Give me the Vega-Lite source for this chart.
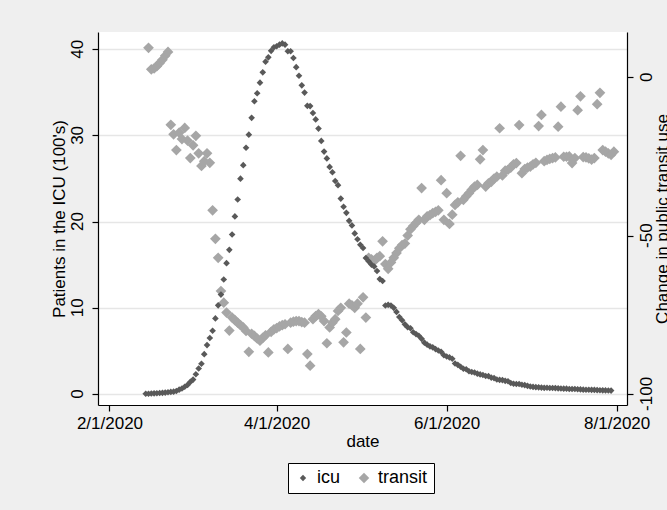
{
  "$schema": "https://vega.github.io/schema/vega-lite/v6.json",
  "width": 529,
  "height": 373,
  "autosize": {"type": "none"},
  "padding": {"left": 98, "top": 32, "right": 40, "bottom": 105},
  "background": "#efefef",
  "config": {
    "font": "Liberation Sans",
    "view": {"fill": "white", "stroke": null},
    "axis": {
      "domainColor": "black", "domainWidth": 1.2, "tickColor": "black", "tickWidth": 1.2, "tickSize": 6,
      "labelColor": "black", "titleColor": "black", "labelFont": "Liberation Sans", "titleFont": "Liberation Sans",
      "labelFontSize": 17, "titleFontSize": 17, "titleFontWeight": "normal"
    }
  },
  "datasets": {
    "series": [
    {"date":"2020-02-14","icu":0.02,"transit":null},
    {"date":"2020-02-15","icu":0.03,"transit":9.3},
    {"date":"2020-02-16","icu":0.05,"transit":2.5},
    {"date":"2020-02-17","icu":0.07,"transit":2.8},
    {"date":"2020-02-18","icu":0.09,"transit":3.5},
    {"date":"2020-02-19","icu":0.11,"transit":4.5},
    {"date":"2020-02-20","icu":0.13,"transit":5.5},
    {"date":"2020-02-21","icu":0.16,"transit":6.8},
    {"date":"2020-02-22","icu":0.2,"transit":8.0},
    {"date":"2020-02-23","icu":0.24,"transit":-15},
    {"date":"2020-02-24","icu":0.27,"transit":-18},
    {"date":"2020-02-25","icu":0.35,"transit":-23},
    {"date":"2020-02-26","icu":0.5,"transit":-17.5},
    {"date":"2020-02-27","icu":0.64,"transit":-19.5},
    {"date":"2020-02-28","icu":0.84,"transit":-16},
    {"date":"2020-02-29","icu":1.05,"transit":-20},
    {"date":"2020-03-01","icu":1.4,"transit":-25.5},
    {"date":"2020-03-02","icu":1.67,"transit":-21.5},
    {"date":"2020-03-03","icu":2.29,"transit":-18.5},
    {"date":"2020-03-04","icu":2.95,"transit":-24},
    {"date":"2020-03-05","icu":3.51,"transit":-28},
    {"date":"2020-03-06","icu":4.62,"transit":-26.5},
    {"date":"2020-03-07","icu":5.67,"transit":-24},
    {"date":"2020-03-08","icu":6.5,"transit":-27},
    {"date":"2020-03-09","icu":7.33,"transit":-42},
    {"date":"2020-03-10","icu":8.77,"transit":-51},
    {"date":"2020-03-11","icu":10.28,"transit":-57},
    {"date":"2020-03-12","icu":11.53,"transit":-67.5},
    {"date":"2020-03-13","icu":13.28,"transit":-71.2},
    {"date":"2020-03-14","icu":15.18,"transit":-74.3},
    {"date":"2020-03-15","icu":16.72,"transit":-80},
    {"date":"2020-03-16","icu":18.51,"transit":-75.9},
    {"date":"2020-03-17","icu":20.6,"transit":-76.7},
    {"date":"2020-03-18","icu":22.57,"transit":-77.5},
    {"date":"2020-03-19","icu":24.98,"transit":-78.3},
    {"date":"2020-03-20","icu":26.55,"transit":-79},
    {"date":"2020-03-21","icu":28.57,"transit":-80.1},
    {"date":"2020-03-22","icu":30.09,"transit":-86.7},
    {"date":"2020-03-23","icu":32.04,"transit":-81},
    {"date":"2020-03-24","icu":33.96,"transit":-81.7},
    {"date":"2020-03-25","icu":34.89,"transit":-82.5},
    {"date":"2020-03-26","icu":36.12,"transit":-83.2},
    {"date":"2020-03-27","icu":37.32,"transit":-82.3},
    {"date":"2020-03-28","icu":38.56,"transit":-81.5},
    {"date":"2020-03-29","icu":39.06,"transit":-86.9},
    {"date":"2020-03-30","icu":39.81,"transit":-80.4},
    {"date":"2020-03-31","icu":40.23,"transit":-79.6},
    {"date":"2020-04-01","icu":40.35,"transit":-79.2},
    {"date":"2020-04-02","icu":40.53,"transit":-78.7},
    {"date":"2020-04-03","icu":40.68,"transit":-78.3},
    {"date":"2020-04-04","icu":40.53,"transit":-78},
    {"date":"2020-04-05","icu":39.77,"transit":-85.8},
    {"date":"2020-04-06","icu":39.77,"transit":-77.5},
    {"date":"2020-04-07","icu":38.98,"transit":-77.2},
    {"date":"2020-04-08","icu":37.92,"transit":-77},
    {"date":"2020-04-09","icu":36.93,"transit":-77},
    {"date":"2020-04-10","icu":35.81,"transit":-77.3},
    {"date":"2020-04-11","icu":34.97,"transit":-77.5},
    {"date":"2020-04-12","icu":33.43,"transit":-87.4},
    {"date":"2020-04-13","icu":33.4,"transit":-91.1},
    {"date":"2020-04-14","icu":32.6,"transit":-76.4},
    {"date":"2020-04-15","icu":31.86,"transit":-75.4},
    {"date":"2020-04-16","icu":30.79,"transit":-74.8},
    {"date":"2020-04-17","icu":29.36,"transit":-75.5},
    {"date":"2020-04-18","icu":28.12,"transit":-77},
    {"date":"2020-04-19","icu":27.33,"transit":-84},
    {"date":"2020-04-20","icu":26.35,"transit":-79},
    {"date":"2020-04-21","icu":25.73,"transit":-77.5},
    {"date":"2020-04-22","icu":24.71,"transit":-76.4},
    {"date":"2020-04-23","icu":24.23,"transit":-73.8},
    {"date":"2020-04-24","icu":22.67,"transit":-72.8},
    {"date":"2020-04-25","icu":21.73,"transit":-83.7},
    {"date":"2020-04-26","icu":21.02,"transit":-80.6},
    {"date":"2020-04-27","icu":20.09,"transit":-71.5},
    {"date":"2020-04-28","icu":19.56,"transit":-72},
    {"date":"2020-04-29","icu":18.63,"transit":-72.8},
    {"date":"2020-04-30","icu":17.95,"transit":-71.5},
    {"date":"2020-05-01","icu":17.32,"transit":-85.8},
    {"date":"2020-05-02","icu":16.94,"transit":-69.5},
    {"date":"2020-05-03","icu":15.78,"transit":-75.9},
    {"date":"2020-05-04","icu":15.39,"transit":-57},
    {"date":"2020-05-05","icu":15.01,"transit":-57.5},
    {"date":"2020-05-06","icu":14.79,"transit":-58},
    {"date":"2020-05-07","icu":14.27,"transit":-57},
    {"date":"2020-05-08","icu":13.33,"transit":-56.5},
    {"date":"2020-05-09","icu":13.11,"transit":-51.8},
    {"date":"2020-05-10","icu":10.27,"transit":-59},
    {"date":"2020-05-11","icu":10.34,"transit":-60.5},
    {"date":"2020-05-12","icu":10.27,"transit":-58.5},
    {"date":"2020-05-13","icu":9.99,"transit":-57},
    {"date":"2020-05-14","icu":9.52,"transit":-55.5},
    {"date":"2020-05-15","icu":8.93,"transit":-54},
    {"date":"2020-05-16","icu":8.55,"transit":-53},
    {"date":"2020-05-17","icu":8.08,"transit":-52.5},
    {"date":"2020-05-18","icu":7.75,"transit":-50},
    {"date":"2020-05-19","icu":7.62,"transit":-48},
    {"date":"2020-05-20","icu":7.16,"transit":-47},
    {"date":"2020-05-21","icu":6.95,"transit":-46},
    {"date":"2020-05-22","icu":6.76,"transit":-45},
    {"date":"2020-05-23","icu":6.4,"transit":-35},
    {"date":"2020-05-24","icu":5.95,"transit":-45},
    {"date":"2020-05-25","icu":5.72,"transit":-43.9},
    {"date":"2020-05-26","icu":5.53,"transit":-43.5},
    {"date":"2020-05-27","icu":5.41,"transit":-42.9},
    {"date":"2020-05-28","icu":5.21,"transit":-42.5},
    {"date":"2020-05-29","icu":5.05,"transit":-42},
    {"date":"2020-05-30","icu":4.89,"transit":-32.5},
    {"date":"2020-05-31","icu":4.5,"transit":-45},
    {"date":"2020-06-01","icu":4.35,"transit":-36.6},
    {"date":"2020-06-02","icu":4.24,"transit":-46.3},
    {"date":"2020-06-03","icu":4.08,"transit":-43.4},
    {"date":"2020-06-04","icu":3.53,"transit":-40.3},
    {"date":"2020-06-05","icu":3.38,"transit":-39.5},
    {"date":"2020-06-06","icu":3.16,"transit":-24.8},
    {"date":"2020-06-07","icu":2.93,"transit":-38.7},
    {"date":"2020-06-08","icu":2.87,"transit":-37.6},
    {"date":"2020-06-09","icu":2.63,"transit":-36.6},
    {"date":"2020-06-10","icu":2.55,"transit":-35.5},
    {"date":"2020-06-11","icu":2.49,"transit":-34.5},
    {"date":"2020-06-12","icu":2.36,"transit":-34},
    {"date":"2020-06-13","icu":2.27,"transit":-25.9},
    {"date":"2020-06-14","icu":2.2,"transit":-23},
    {"date":"2020-06-15","icu":2.09,"transit":-34.5},
    {"date":"2020-06-16","icu":2.07,"transit":-33.5},
    {"date":"2020-06-17","icu":1.9,"transit":-33},
    {"date":"2020-06-18","icu":1.84,"transit":-32},
    {"date":"2020-06-19","icu":1.68,"transit":-31.4},
    {"date":"2020-06-20","icu":1.63,"transit":-16.1},
    {"date":"2020-06-21","icu":1.61,"transit":-31},
    {"date":"2020-06-22","icu":1.52,"transit":-29.5},
    {"date":"2020-06-23","icu":1.48,"transit":-29.2},
    {"date":"2020-06-24","icu":1.27,"transit":-28.5},
    {"date":"2020-06-25","icu":1.19,"transit":-27.5},
    {"date":"2020-06-26","icu":1.15,"transit":-27.1},
    {"date":"2020-06-27","icu":1.15,"transit":-15.1},
    {"date":"2020-06-28","icu":1.07,"transit":-30.3},
    {"date":"2020-06-29","icu":1.03,"transit":-29},
    {"date":"2020-06-30","icu":0.94,"transit":-28.5},
    {"date":"2020-07-01","icu":0.87,"transit":-28.2},
    {"date":"2020-07-02","icu":0.82,"transit":-27.5},
    {"date":"2020-07-03","icu":0.79,"transit":-27},
    {"date":"2020-07-04","icu":0.77,"transit":-15.4},
    {"date":"2020-07-05","icu":0.74,"transit":-11.9},
    {"date":"2020-07-06","icu":0.71,"transit":-26.5},
    {"date":"2020-07-07","icu":0.72,"transit":-26.1},
    {"date":"2020-07-08","icu":0.69,"transit":-25.8},
    {"date":"2020-07-09","icu":0.69,"transit":-25.5},
    {"date":"2020-07-10","icu":0.68,"transit":-25.3},
    {"date":"2020-07-11","icu":0.65,"transit":-15.6},
    {"date":"2020-07-12","icu":0.64,"transit":-9.3},
    {"date":"2020-07-13","icu":0.62,"transit":-25.1},
    {"date":"2020-07-14","icu":0.62,"transit":-25.1},
    {"date":"2020-07-15","icu":0.58,"transit":-25},
    {"date":"2020-07-16","icu":0.58,"transit":-27.1},
    {"date":"2020-07-17","icu":0.58,"transit":-25.5},
    {"date":"2020-07-18","icu":0.55,"transit":-10.4},
    {"date":"2020-07-19","icu":0.53,"transit":-6},
    {"date":"2020-07-20","icu":0.5,"transit":-25.2},
    {"date":"2020-07-21","icu":0.49,"transit":-25.3},
    {"date":"2020-07-22","icu":0.49,"transit":-25.6},
    {"date":"2020-07-23","icu":0.48,"transit":-26},
    {"date":"2020-07-24","icu":0.47,"transit":-25.5},
    {"date":"2020-07-25","icu":0.45,"transit":-8.5},
    {"date":"2020-07-26","icu":0.43,"transit":-4.9},
    {"date":"2020-07-27","icu":0.42,"transit":-23},
    {"date":"2020-07-28","icu":0.41,"transit":-23.5},
    {"date":"2020-07-29","icu":0.4,"transit":-24},
    {"date":"2020-07-30","icu":0.39,"transit":-24.5},
    {"date":"2020-07-31","icu":null,"transit":-23.5}
    ],
    "leftTicks": [
      {"v": 0, "label": "0"}, {"v": 10, "label": "10"}, {"v": 20, "label": "20"}, {"v": 30, "label": "30"}, {"v": 40, "label": "40"}
    ],
    "rightTicks": [
      {"v": -100, "label": "-100"}, {"v": -50, "label": "-50"}, {"v": 0, "label": "0"}
    ]
  },
  "layer": [
    {
      "data": {"name": "series"},
      "mark": {"type": "point", "shape": "diamond", "filled": true, "size": 115, "opacity": 1},
      "encoding": {
        "x": {
          "field": "date", "type": "temporal",
          "scale": {"type": "utc", "domain": [1580158800000, 1596560400000]},
          "axis": {
            "title": "date", "grid": false,
            "labelExpr": "utcFormat(datum.value, '%-m/%-d/%Y')",
            "values": [1580515200000, 1585699200000, 1590969600000, 1596240000000],
            "labelFlush": false, "labelOverlap": false, "labelPadding": 4, "titlePadding": 2
          }
        },
        "y": {
          "field": "transit", "type": "quantitative",
          "scale": {"domain": [-103.5, 14.3], "nice": false, "zero": false},
          "axis": {
            "orient": "right", "title": "Change in public transit use", "values": [-100, -50, 0],
            "grid": false, "labels": false, "titleAngle": 270, "titleBaseline": "top", "titlePadding": 21
          }
        },
        "color": {
          "datum": "transit", "type": "nominal",
          "scale": {"domain": ["icu", "transit"], "range": ["#595959", "#a6a6a6"]},
          "legend": {
            "title": null, "orient": "none", "legendX": 190, "legendY": 431, "direction": "horizontal",
            "strokeColor": "black", "fillColor": "white", "padding": 6,
            "symbolType": "diamond", "symbolStrokeWidth": 0, "symbolOpacity": 1,
            "labelFontSize": 18, "labelColor": "black", "labelFont": "Liberation Sans",
            "labelOffset": 5, "columnPadding": 14,
            "encode": {"symbols": {"update": {"size": {"signal": "datum.value === 'transit' ? 110 : 40"}}}}
          }
        }
      }
    },
    {
      "data": {"name": "series"},
      "mark": {"type": "point", "shape": "diamond", "filled": true, "size": 44, "opacity": 1},
      "encoding": {
        "x": {"field": "date", "type": "temporal"},
        "y": {
          "field": "icu", "type": "quantitative",
          "scale": {"domain": [-1.28, 42.0], "nice": false, "zero": false},
          "axis": {
            "orient": "left", "title": "Patients in the ICU (100's)", "values": [0, 10, 20, 30, 40],
            "grid": true, "gridColor": "#e6e6e6", "gridWidth": 1.5,
            "labels": false, "titlePadding": 23
          }
        },
        "color": {"datum": "icu", "type": "nominal"}
      }
    },
    {
      "data": {"name": "leftTicks"},
      "mark": {"type": "text", "angle": 270, "align": "center", "baseline": "alphabetic", "dy": -15,
               "font": "Liberation Sans", "fontSize": 17, "fill": "black"},
      "encoding": {
        "x": {"datum": 1580158800000, "type": "temporal"},
        "y": {"field": "v", "type": "quantitative", "scale": {"domain": [-1.28, 42.0], "nice": false, "zero": false}, "axis": null},
        "text": {"field": "label", "type": "nominal"}
      }
    },
    {
      "data": {"name": "rightTicks"},
      "mark": {"type": "text", "angle": 270, "align": "center", "baseline": "alphabetic", "dy": 25,
               "font": "Liberation Sans", "fontSize": 17, "fill": "black"},
      "encoding": {
        "x": {"datum": 1596560400000, "type": "temporal"},
        "y": {"field": "v", "type": "quantitative", "scale": {"domain": [-103.5, 14.3], "nice": false, "zero": false}, "axis": null},
        "text": {"field": "label", "type": "nominal"}
      }
    }
  ],
  "resolve": {"scale": {"y": "independent"}}
}
